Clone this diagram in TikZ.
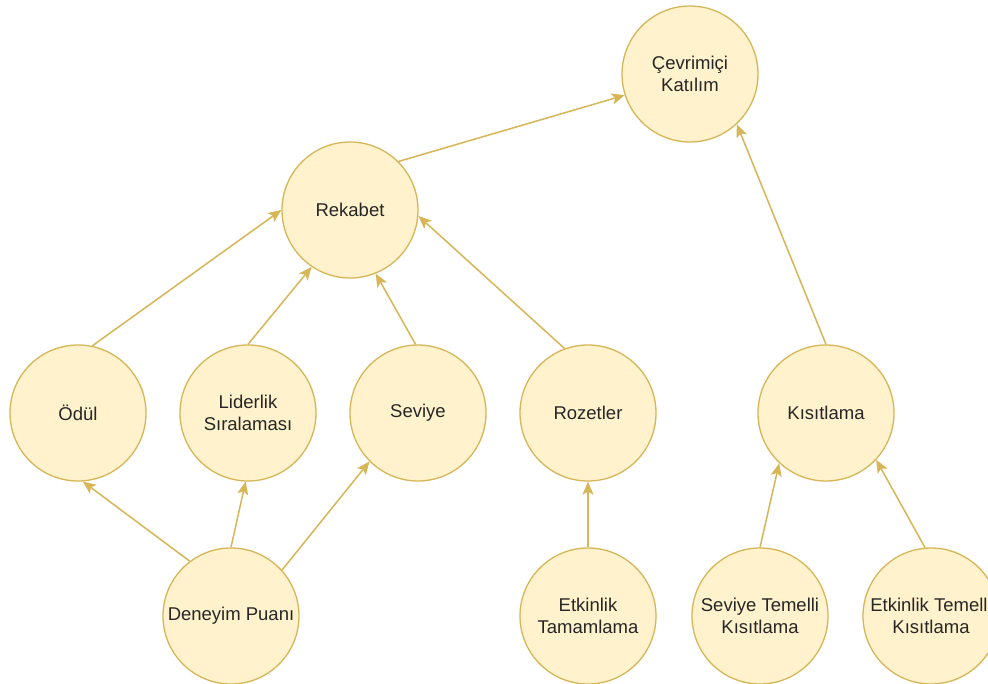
\documentclass[tikz,border=0pt]{standalone}
\usepackage{fontspec}
\setmainfont{Liberation Sans}
\usetikzlibrary{arrows.meta}
\definecolor{nodefill}{HTML}{FFF2CC}
\definecolor{nodeline}{HTML}{D6B656}
\tikzset{
  bubble/.style={circle, draw=nodeline, fill=nodefill, line width=1.3pt, minimum size=136pt, inner sep=0pt, align=center, font=\fontsize{18.5}{21.5}\selectfont, text=black!85},
  link/.style={draw=nodeline, line width=1.5pt, -{Stealth[length=13pt, width=11pt, inset=3pt]}}
}
\begin{document}
\begin{tikzpicture}[x=1pt, y=-1pt]
\useasboundingbox (0,0) rectangle (988,684);
\fill[white] (0,0) rectangle (988,684);
\clip (0,0) rectangle (988,684);
\node[bubble] (cev) at (690,74) {Çevrimiçi\\Katılım};
\node[bubble] (rek) at (350,210) {Rekabet};
\node[bubble] (odul) at (78,413) {Ödül};
\node[bubble] (lid) at (248,413) {Liderlik\\Sıralaması};
\node[bubble] (sev) at (418,413) {Seviye};
\node[bubble] (roz) at (588,413) {Rozetler};
\node[bubble] (kis) at (826,413) {Kısıtlama};
\node[bubble] (den) at (231,616) {Deneyim Puanı};
\node[bubble] (etk) at (588,616) {Etkinlik\\Tamamlama};
\node[bubble] (stk) at (760,616) {Seviye Temelli\\Kısıtlama};
\node[bubble] (etkk) at (931,616) {Etkinlik Temelli\\Kısıtlama};
\draw[link] (rek.45) -- (cev.198);
\draw[link] (kis.90) -- (cev.313);
\draw[link] (odul.78) -- (rek.180);
\draw[link] (lid.90) -- (rek.236);
\draw[link] (sev.92) -- (rek.292);
\draw[link] (roz.110) -- (rek.355);
\draw[link] (den.127) -- (odul.274);
\draw[link] (den.90) -- (lid.268);
\draw[link] (den.42) -- (sev.225);
\draw[link] (etk.90) -- (roz.270);
\draw[link] (stk.90) -- (kis.227);
\draw[link] (etkk.95) -- (kis.317);
\end{tikzpicture}
\end{document}
